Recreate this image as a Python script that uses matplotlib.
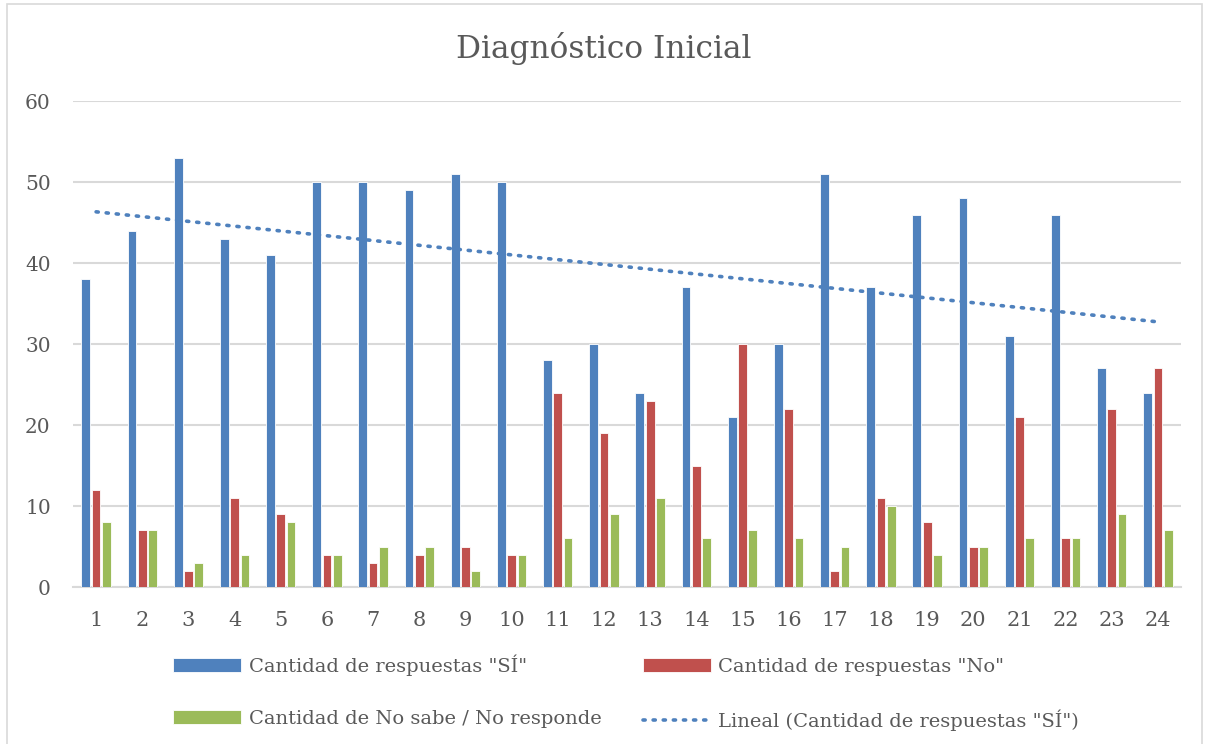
import matplotlib.pyplot as plt
import matplotlib.patches as mpatches
import numpy as np

preguntas = list(range(1, 25))
si = [38, 44, 53, 43, 41, 50, 50, 49, 51, 50, 28, 30, 24, 37, 21, 30, 51, 37, 46, 48, 31, 46, 27, 24]
no = [12, 7, 2, 11, 9, 4, 3, 4, 5, 4, 24, 19, 23, 15, 30, 22, 2, 11, 8, 5, 21, 6, 22, 27]
ns_nr = [8, 7, 3, 4, 8, 4, 5, 5, 2, 4, 6, 9, 11, 6, 7, 6, 5, 10, 4, 5, 6, 6, 9, 7]

plt.rcParams['font.family'] = ['DejaVu Serif']
gris = '#595959'

fig = plt.figure(figsize=(12.07, 7.44), dpi=100)
ax = fig.add_axes([0.0605, 0.211, 0.918, 0.653])

x = np.array(preguntas)
w = 0.19
off = 0.223
ax.bar(x - off, si, w, color='#4f81bd', edgecolor='white', linewidth=0.6,
       label='Cantidad de respuestas "SÍ"', zorder=3)
ax.bar(x, no, w, color='#c0504d', edgecolor='white', linewidth=0.6,
       label='Cantidad de respuestas "No"', zorder=3)
ax.bar(x + off, ns_nr, w, color='#9bbb59', edgecolor='white', linewidth=0.6,
       label='Cantidad de No sabe / No responde', zorder=3)

# tendencia lineal de los "SÍ"
m, b = np.polyfit(x, si, 1)
ax.plot(x, m * x + b, color='#4f81bd', linestyle=(0, (0.6, 2.2)), linewidth=2.6,
        dash_capstyle='round', label='Lineal (Cantidad de respuestas "SÍ")', zorder=4)

ax.set_xlim(0.5, 24.5)
ax.set_ylim(0, 60)
ax.set_yticks(range(0, 61, 10))
ax.set_xticks(x)
ax.grid(axis='y', color='#d9d9d9', linewidth=1.5, zorder=0)
for s in ['top', 'right', 'left']:
    ax.spines[s].set_visible(False)
ax.spines['bottom'].set_color('#d9d9d9')
ax.spines['bottom'].set_linewidth(1.5)
ax.tick_params(length=0, labelsize=15, colors=gris, pad=17)
ax.tick_params(axis='y', labelsize=14.5, pad=16)

fig.text(0.5, 0.935, 'Diagnóstico Inicial', ha='center', va='center',
         fontsize=22.5, color=gris)

h, l = ax.get_legend_handles_labels()
orden = [1, 3, 2, 0]
h = [h[i] for i in orden]
l = [l[i] for i in orden]
leg = fig.legend(h, l, ncol=2, loc='center left', bbox_to_anchor=(0.129, 0.069),
                 frameon=False, fontsize=14, handlelength=3.5, handleheight=0.7,
                 handletextpad=0.4, labelspacing=1.75, columnspacing=2.1,
                 labelcolor=gris)

fig.patches.append(mpatches.Rectangle((0.006, -0.01), 0.99, 1.005, transform=fig.transFigure,
                                      fill=False, edgecolor='#d9d9d9', linewidth=1.2))

fig.savefig('out.png', dpi=100)
